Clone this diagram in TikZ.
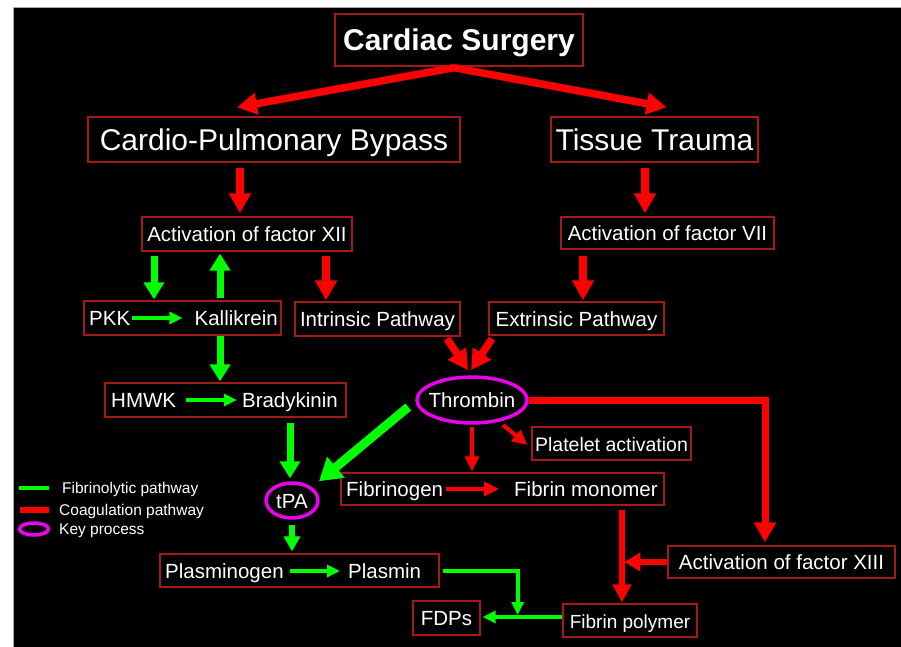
\documentclass[tikz,border=0pt]{standalone}
\usepackage{fontspec}
\setmainfont{Liberation Sans}
\usetikzlibrary{arrows.meta, shapes.geometric, calc}
\definecolor{cred}{RGB}{255,0,0}
\definecolor{fgreen}{RGB}{0,255,0}
\definecolor{kmag}{RGB}{235,0,235}
\definecolor{bord}{RGB}{165,25,25}

\begin{document}
\begin{tikzpicture}[
  x=1pt, y=-1pt,
  box/.style   ={rectangle, draw=bord, line width=1.3pt, fill=black, text=white, inner sep=0pt, text height=15pt, text depth=0pt, font=\fontsize{20.5}{24}\selectfont},
  bigbox/.style={box, text height=21.5pt, font=\fontsize{30}{36}\selectfont},
  txt/.style   ={text=white, inner sep=0pt, text height=15pt, text depth=0pt, font=\fontsize{20.5}{24}\selectfont},
  keyproc/.style={ellipse, draw=kmag, line width=3.5pt, inner sep=0pt},
  lab/.style   ={text=white, anchor=west, inner sep=0pt, text height=11pt, text depth=0pt, font=\fontsize{15.5}{18}\selectfont},
  coag/.style    ={-{Triangle[length=20pt, width=21pt]}, line width=7.5pt, cred},
  coagthin/.style={-{Triangle[length=15pt, width=14pt]}, line width=4pt, cred},
  fib/.style     ={-{Triangle[length=17pt, width=20pt]}, line width=7pt, fgreen},
  fibthin/.style ={-{Triangle[length=13pt, width=12pt]}, line width=4pt, fgreen},
]

% ---- background
\useasboundingbox (0,0) rectangle (901,647);
\fill[white] (0,0) rectangle (901,647);
\filldraw[fill=black, draw=black!35, line width=0.8pt] (13,7) rectangle (903,649);

% ---- nodes: top levels
\node[bigbox, font=\bfseries\fontsize{30}{36}\selectfont, minimum width=248, minimum height=52] (cs) at (459,40) {Cardiac Surgery};
\node[bigbox, minimum width=372, minimum height=45] (cpb) at (274,139.5) {Cardio-Pulmonary Bypass};
\node[bigbox, minimum width=207, minimum height=45] (tt)  at (654.5,139.5) {Tissue Trauma};
\node[box, minimum width=210, minimum height=34] (fxii) at (247,234)   {Activation of factor XII};
\node[box, minimum width=213, minimum height=32] (fvii) at (667.5,233) {Activation of factor VII};

% ---- nodes: pathways
\node[box, minimum width=197, minimum height=34] (pkkbox) at (182.5,318) {};
\node[txt, anchor=west] (pkk) at (89,318)  {PKK};
\node[txt, anchor=east] (kal) at (278,318) {Kallikrein};
\node[box, minimum width=165, minimum height=34] (intr) at (377.5,319)  {Intrinsic Pathway};
\node[box, minimum width=175, minimum height=33] (extr) at (576.5,318.5) {Extrinsic Pathway};
\node[box, minimum width=241, minimum height=34] (hmbox) at (225.5,400) {};
\node[txt, anchor=west] (hmwk)  at (111,400) {HMWK};
\node[txt, anchor=east] (brady) at (338,400) {Bradykinin};
\node[keyproc, minimum width=110, minimum height=46, label={[txt]center:Thrombin}] (thr) at (472,400) {};

% ---- nodes: lower part
\node[box, minimum width=159, minimum height=33, font=\fontsize{19.5}{23}\selectfont] (plt) at (611.5,443.5) {Platelet activation};
\node[box, minimum width=323, minimum height=32] (fgbox) at (502.5,489) {};
\node[txt, anchor=west] (fgen)  at (346,489) {Fibrinogen};
\node[txt, anchor=west] (fmono) at (514,489) {Fibrin monomer};
\node[keyproc, minimum width=52, minimum height=35, label={[txt]center:tPA}] (tpa) at (292,500.5) {};
\node[box, minimum width=227, minimum height=32] (fxiii) at (781.5,562) {Activation of factor XIII};
\node[box, minimum width=279, minimum height=33] (plbox) at (299.5,570.5) {};
\node[txt, anchor=west] (plg) at (165,571) {Plasminogen};
\node[txt, anchor=west] (plm) at (348,571) {Plasmin};
\node[box, minimum width=67, minimum height=34]  (fdp)   at (446.5,618) {FDPs};
\node[box, minimum width=134, minimum height=33, font=\fontsize{19}{23}\selectfont] (fpoly) at (630,620.5) {Fibrin polymer};

% ---- coagulation edges
\draw[coag] ($(cs.south)+(-5,1)$) -- ($(cpb.north)+(-37,-9)$);
\draw[coag] ($(cs.south)+(-5,1)$) -- ($(tt.north)+(12,-9)$);
\draw[coag] ($(cpb.south)+(-34,5)$) -- ($(fxii.north)+(-7,-3)$);
\draw[coag] ($(tt.south)+(-9.5,5)$) -- ($(fvii.north)+(-22.5,-3)$);
\draw[coag] ($(fxii.south)+(79,4)$) -- ($(intr.north)+(-51.5,-1)$);
\draw[coag] ($(fvii.south)+(-84.5,6)$) -- ($(extr.north)+(6.5,-1)$);
\draw[coag] ($(intr.south)+(69.5,2)$) -- ($(thr.north)+(-4,-5)$);
\draw[coag] ($(extr.south)+(-84.5,3)$) -- ($(thr.north)+(-1,-5)$);
\draw[coagthin] ($(thr.center)+(31,25)$) -- ($(plt.west)+(-4,1.5)$);
\draw[coagthin] ($(thr.south)+(0,2)$) -- ($(fgbox.north)+(-30.5,-1)$);
\draw[coag, line width=7pt] (thr.east) -| ($(fxiii.north)+(-16.5,-3)$);
\draw[coagthin, shorten <=3pt, shorten >=15pt] (fgen) -- (fmono);
\draw[coag, line width=6pt, -{Triangle[length=18pt, width=18pt]}] ($(fgbox.south)+(119.5,4)$) -- ($(fpoly.north)+(-8,-1)$);
\draw[coag, line width=6pt, -{Triangle[length=16pt, width=18pt]}] (fxiii.west) -- ($(fxiii.west)+(-43,0)$);

% ---- fibrinolytic edges
\draw[fib] ($(fxii.south)+(-93,4)$) -- ($(pkkbox.north)+(-28.5,-1)$);
\draw[fib] ($(pkkbox.north)+(37.5,-2)$) -- ($(fxii.south)+(-27,2)$);
\draw[fibthin, shorten <=2pt, shorten >=12pt] (pkk) -- (kal);
\draw[fib] ($(pkkbox.south)+(37.5,0)$) -- ($(hmbox.north)+(-5.5,-1)$);
\draw[fibthin, shorten <=10pt, shorten >=5pt] (hmwk) -- (brady);
\draw[fib, line width=9pt, -{Triangle[length=22pt, width=26pt]}] ($(thr.west)+(-7,7)$) -- ($(tpa.north)+(27,0)$);
\draw[fib] ($(hmbox.south)+(64.5,5)$) -- ($(tpa.north)+(-2,-3)$);
\draw[fib, line width=6pt, -{Triangle[length=15pt, width=16pt]}] ($(tpa.south)+(0,5)$) -- ($(plbox.north)+(-7.5,-2)$);
\draw[fibthin, shorten <=6pt, shorten >=8pt] (plg) -- (plm);
\draw[fibthin] ($(plbox.east)+(3,0)$) -| ($(fdp.east)+(37,-3)$);
\draw[fibthin] ($(fpoly.west)+(0,-3.5)$) -- ($(fdp.east)+(2,-1)$);

% ---- legend
\node[fill=fgreen, minimum width=30, minimum height=4.5, inner sep=0pt] (lgfib) at (34,488) {};
\node[lab] (lfib) at (62,488) {Fibrinolytic pathway};
\node[fill=cred, minimum width=29, minimum height=6.5, inner sep=0pt] (lgcoag) at (34.5,510) {};
\node[lab] (lcoag) at (59,510) {Coagulation pathway};
\node[keyproc, minimum width=29, minimum height=12] (lgkey) at (34,529) {};
\node[lab] (lkey) at (59,529) {Key process};

\end{tikzpicture}
\end{document}
